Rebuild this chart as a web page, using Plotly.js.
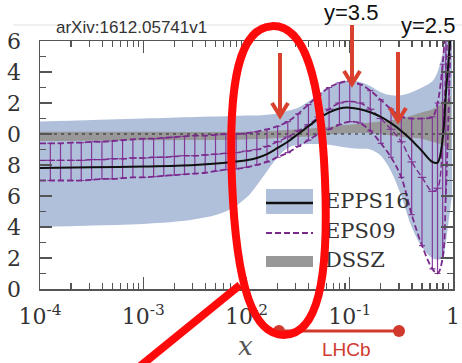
<!DOCTYPE html>
<html><head><meta charset="utf-8">
<script src="https://cdn.plot.ly/plotly-3.0.1.min.js"></script>
<style>html,body{margin:0;padding:0;background:#fff}</style>
</head><body><div id="chart" style="width:462px;height:363px"></div>
<script>
// ---------- data ----------
// EPS09 (x positions of the sampled points / error bars)
const xEps = [1.00e-4,1.26e-4,1.58e-4,2.00e-4,2.51e-4,3.16e-4,3.98e-4,5.01e-4,6.31e-4,7.94e-4,
  1.00e-3,1.26e-3,1.58e-3,2.00e-3,2.51e-3,3.16e-3,3.98e-3,5.01e-3,6.31e-3,7.94e-3,
  0.0100,0.0126,0.0158,0.0200,0.0251,0.0316,0.0398,0.0501,0.0631,0.0794,
  0.100,0.126,0.158,0.200,0.251,0.316,0.398,0.501,0.631,0.708,0.794,0.851,0.912,0.955];
const eps09Up = [.94,.94,.94,.945,.945,.95,.95,.955,.96,.965,
  .97,.97,.975,.98,.985,.99,.99,.995,1.0,1.0,
  1.005,1.015,1.03,1.05,1.08,1.13,1.19,1.25,1.30,1.33,
  1.34,1.32,1.28,1.22,1.16,1.11,1.10,1.10,1.11,1.20,1.45,1.75,2.0,2.2];
const eps09Mid = [.83,.83,.83,.83,.83,.835,.835,.84,.84,.845,
  .845,.85,.85,.855,.86,.86,.865,.87,.875,.88,
  .89,.90,.92,.95,.98,1.02,1.06,1.11,1.16,1.20,
  1.21,1.20,1.16,1.10,1.03,.95,.82,.72,.63,.65,1.00,1.40,1.80,2.0];
const eps09Low = [.70,.70,.70,.70,.70,.705,.71,.71,.715,.72,
  .72,.725,.73,.735,.74,.745,.75,.76,.77,.775,
  .785,.80,.82,.85,.88,.92,.96,1.00,1.03,1.06,
  1.08,1.07,1.02,.94,.85,.72,.48,.28,.13,.10,.20,.60,1.20,1.70];

// EPPS16 (central line and band)
const xEpps = [1e-4,3.16e-4,1e-3,3.16e-3,6.31e-3,0.01,0.0126,0.0158,0.02,0.0251,0.0316,0.0398,0.0501,0.0631,0.0794,
  0.1,0.126,0.158,0.2,0.251,0.316,0.398,0.501,0.631,0.708,0.794,0.851,0.912,0.977];
const epps16Mid = [.78,.785,.79,.80,.815,.83,.845,.87,.91,.95,1.0,1.05,1.10,1.14,1.165,
  1.17,1.16,1.14,1.11,1.07,1.02,.96,.89,.82,.815,.97,1.25,1.5,1.75];
const epps16Up = [1.08,1.09,1.10,1.11,1.115,1.12,1.12,1.125,1.13,1.15,1.17,1.21,1.26,1.30,1.33,
  1.345,1.335,1.31,1.27,1.25,1.25,1.27,1.30,1.34,1.40,1.52,1.6,1.65,1.7];
const epps16Low = [.40,.41,.42,.45,.50,.59,.67,.76,.85,.91,.93,.935,.935,.93,.92,
  .91,.905,.90,.86,.76,.60,.40,.27,.20,.19,.20,.30,.45,.60];

// DSSZ band
const xDssz = [1e-4,1e-3,0.01,0.0316,0.1,0.2,0.316,0.501,0.631,0.794,0.955];
const dsszUp = [1.015,1.015,1.015,1.03,1.06,1.08,1.10,1.14,1.16,1.20,1.25];
const dsszLow = [.955,.96,.965,.98,1.005,1.0,.98,.97,.95,.93,.90];

// reference line R = 1
const refX = [1e-4, 1];
const refY = [1, 1];

// ticks
const xTickVals = [1e-4, 1e-3, 1e-2, 1e-1, 1];
const xTickText = ['10<sup>-4</sup>','10<sup>-3</sup>','10<sup>-2</sup>','10<sup>-1</sup>','1'];
const yTickVals = [0,0.2,0.4,0.6,0.8,1.0,1.2,1.4,1.6];
const yTickText = ['0','2','4','6','8','0','2','4','6'];

const legendNames = ['EPPS16','EPS09','DSSZ'];

// ---------- geometry helpers (pixel -> paper / data) ----------
const L=40, R=453, T=41, B=289;
const PX = p => (p-L)/(R-L);
const PY = p => (B-p)/(B-T);
const DX = p => Math.pow(10, -4 + 4*(p-L)/(R-L));
const DY = p => 1.6*(B-p)/(B-T);

const SERIF = 'DejaVu Serif';
const SANS = 'Liberation Sans';

const BLUE='rgb(176,192,218)', GRAY='rgb(152,152,152)', PURP='#7a2a8c', PURB='rgba(128,48,150,0.95)';
const ARROW='#d9402e', RED='#ff0a0a', LHCB='#d0392c';

const traces = [
  {x:xEpps, y:epps16Low, mode:'lines', line:{width:0, shape:'spline'}, hoverinfo:'skip'},
  {x:xEpps, y:epps16Up, mode:'lines', line:{width:0, shape:'spline'}, fill:'tonexty', fillcolor:BLUE, hoverinfo:'skip'},
  {x:xDssz, y:dsszLow, mode:'lines', line:{width:0, shape:'spline'}, hoverinfo:'skip'},
  {x:xDssz, y:dsszUp, mode:'lines', line:{width:0, shape:'spline'}, fill:'tonexty', fillcolor:GRAY, hoverinfo:'skip'},
  {x:refX, y:refY, mode:'lines', line:{width:1, color:'#222', dash:'3px,4px'}},
  {x:xEps.slice(1), y:eps09Mid.slice(1), mode:'markers',
    marker:{symbol:'line-ew', size:6, line:{width:1.2, color:PURB}},
    error_y:{type:'data', symmetric:false,
      array:eps09Up.slice(1).map((u,i)=>u-eps09Mid[i+1]),
      arrayminus:eps09Mid.slice(1).map((m,i)=>m-eps09Low[i+1]),
      color:PURB, thickness:1.2, width:3}},
  {x:xEps, y:eps09Up, mode:'lines', line:{width:1.8, color:PURP, dash:'6px,3px', shape:'spline'}},
  {x:xEps, y:eps09Mid, mode:'lines', line:{width:1.4, color:PURP, dash:'6px,3px', shape:'spline'}},
  {x:xEps, y:eps09Low, mode:'lines', line:{width:1.8, color:PURP, dash:'6px,3px', shape:'spline'}},
  {x:xEpps, y:epps16Mid, mode:'lines', line:{width:2, color:'#111', shape:'spline'}},
  {x:[DX(325),DX(325),DX(325)], y:[DY(203),DY(233),DY(262)], mode:'text', text:legendNames,
    textposition:'middle right', textfont:{family:SERIF, size:21, color:'#333'}, cliponaxis:false},
  {x:[DX(284)], y:[DY(28)], mode:'text', text:['y=5'], textposition:'middle center',
    textfont:{family:SANS, size:22, color:'#111'}, cliponaxis:false}
];

function arrow(x, top, tip){
  return [
    {type:'line', xref:'paper', yref:'paper', x0:PX(x), x1:PX(x), y0:PY(top), y1:PY(tip-3), line:{color:ARROW, width:4}, layer:'above'},
    {type:'path', xref:'paper', yref:'paper', layer:'above', line:{color:ARROW, width:4},
      path:`M ${PX(x-8)},${PY(tip-13)} L ${PX(x)},${PY(tip)} L ${PX(x+8)},${PY(tip-13)}`}
  ];
}

// hand-drawn style red loop: rounded (superellipse-like) oval, slightly tilted
function loopPath(cx, cy, a, b, k, ang){
  const c = Math.cos(ang), s = Math.sin(ang);
  const P = (x, y) => { const X = cx + x*c - y*s, Y = cy + x*s + y*c; return PX(X)+','+PY(Y); };
  return `M ${P(0,-b)} C ${P(k*a,-b)} ${P(a,-k*b)} ${P(a,0)} C ${P(a,k*b)} ${P(k*a,b)} ${P(0,b)} ` +
         `C ${P(-k*a,b)} ${P(-a,k*b)} ${P(-a,0)} C ${P(-a,-k*b)} ${P(-k*a,-b)} ${P(0,-b)} Z`;
}

const shapes = [
  {type:'line', xref:'paper', yref:'paper', x0:PX(13), x1:PX(462), y0:PY(25), y1:PY(25), line:{color:'#e2e2e2', width:1}, layer:'below'},
  // legend symbols
  {type:'rect', xref:'paper', yref:'paper', x0:PX(266), x1:PX(313), y0:PY(214), y1:PY(189), fillcolor:BLUE, line:{width:0}, layer:'above'},
  {type:'line', xref:'paper', yref:'paper', x0:PX(266), x1:PX(313), y0:PY(203), y1:PY(203), line:{color:'#111', width:2.5}, layer:'above'},
  {type:'line', xref:'paper', yref:'paper', x0:PX(266), x1:PX(313), y0:PY(233), y1:PY(233), line:{color:PURP, width:2, dash:'6px,3px'}, layer:'above'},
  {type:'rect', xref:'paper', yref:'paper', x0:PX(266), x1:PX(313), y0:PY(267), y1:PY(256), fillcolor:GRAY, line:{width:0}, layer:'above'},
  ...arrow(280, 53, 116),
  ...arrow(352, 25, 84),
  ...arrow(398, 52, 121),
  // LHCb range
  {type:'line', xref:'paper', yref:'paper', x0:PX(279), x1:PX(399), y0:PY(331), y1:PY(331), line:{color:LHCB, width:3}, layer:'above'},
  {type:'circle', xref:'paper', yref:'paper', x0:PX(273), x1:PX(285), y0:PY(337), y1:PY(325), fillcolor:LHCB, line:{width:0}, layer:'above'},
  {type:'circle', xref:'paper', yref:'paper', x0:PX(393), x1:PX(405), y0:PY(337), y1:PY(325), fillcolor:LHCB, line:{width:0}, layer:'above'},
  // red loop and pointer line
  {type:'path', xref:'paper', yref:'paper', path:loopPath(278.5, 180.5, 46.5, 154.5, 0.68, -0.042), line:{color:RED, width:8}, layer:'above'},
  {type:'line', xref:'paper', yref:'paper', x0:PX(240), x1:PX(128), y0:PY(285), y1:PY(376), line:{color:RED, width:8}, layer:'above'}
];

const annotations = [
  {xref:'paper', yref:'paper', x:PX(131), y:PY(27), text:'arXiv:1612.05741v1', showarrow:false,
    font:{family:SANS, size:17, color:'#333'}, xanchor:'center', yanchor:'middle'},
  {xref:'paper', yref:'paper', x:PX(351), y:PY(12), text:'y=3.5', showarrow:false,
    font:{family:SANS, size:22, color:'#111'}, xanchor:'center', yanchor:'middle'},
  {xref:'paper', yref:'paper', x:PX(428), y:PY(25), text:'y=2.5', showarrow:false,
    font:{family:SANS, size:22, color:'#111'}, xanchor:'center', yanchor:'middle'},
  {xref:'paper', yref:'paper', x:PX(346), y:PY(349), text:'LHCb', showarrow:false,
    font:{family:SANS, size:19, color:LHCB}, xanchor:'center', yanchor:'middle'},
  {xref:'paper', yref:'paper', x:PX(245), y:PY(346), text:'<i>x</i>', showarrow:false,
    font:{family:SERIF, size:26, color:'#555', style:'italic'}, xanchor:'center', yanchor:'middle'}
];

function axisCommon(){
  return {showline:true, linecolor:'#555', linewidth:1.5, mirror:'ticks', ticks:'inside',
    ticklen:12, tickwidth:1.3, tickcolor:'#555', showgrid:false, zeroline:false,
    tickfont:{family:SERIF, size:22, color:'#333'}};
}

const layout = {
  width:462, height:363, margin:{l:L, r:462-R, t:T, b:363-B},
  paper_bgcolor:'#fff', plot_bgcolor:'#fff', showlegend:false,
  xaxis:Object.assign(axisCommon(), {type:'log', range:[-4,0], tickmode:'array', tickvals:xTickVals, ticktext:xTickText,
    ticklabelstandoff:7,
    minor:{dtick:'D1', ticks:'inside', ticklen:6, tickwidth:1.2, tickcolor:'#555', showgrid:false}}),
  yaxis:Object.assign(axisCommon(), {range:[0,1.6], tickmode:'array', tickvals:yTickVals, ticktext:yTickText,
    ticklabelstandoff:13,
    minor:{dtick:0.1, ticks:'inside', ticklen:6, tickwidth:1.2, tickcolor:'#555', showgrid:false}}),
  shapes:shapes, annotations:annotations
};

Plotly.newPlot('chart', traces, layout, {staticPlot:true, displayModeBar:false});
</script></body></html>
